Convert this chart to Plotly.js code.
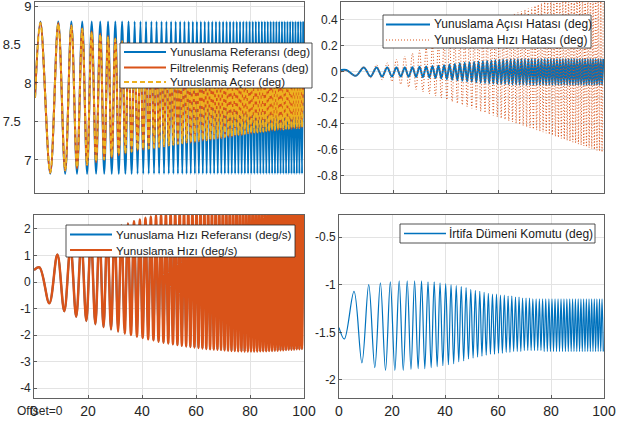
<!DOCTYPE html>
<html>
<head>
<meta charset="utf-8">
<script src="https://cdn.plot.ly/plotly-3.0.1.min.js"></script>
<style>html,body{margin:0;padding:0;background:#fff;}#chart{width:634px;height:425px;}</style>
</head>
<body>
<div id="chart"></div>
<script>
// ---- DATA (turning points of the chirp test) ----
const timeS = [0, 2.01, 5.67, 8.65, 11.22, 13.52, 15.62, 17.56, 19.37, 21.08, 22.71, 24.25, 25.74, 27.16, 28.53, 29.86, 31.14, 32.38, 33.59, 34.77, 35.92, 37.04, 38.13, 39.20, 40.25, 41.28, 42.28, 43.27, 44.24, 45.19, 46.13, 47.05, 47.96, 48.85, 49.73, 50.60, 51.45, 52.30, 53.13, 53.95, 54.76, 55.56, 56.35, 57.14, 57.91, 58.67, 59.43, 60.18, 60.92, 61.65, 62.38, 63.10, 63.81, 64.51, 65.21, 65.90, 66.59, 67.27, 67.94, 68.61, 69.27, 69.93, 70.58, 71.23, 71.87, 72.50, 73.14, 73.76, 74.38, 75.00, 75.61, 76.22, 76.83, 77.43, 78.02, 78.62, 79.21, 79.79, 80.37, 80.95, 81.52, 82.09, 82.66, 83.22, 83.78, 84.34, 84.89, 85.44, 85.99, 86.53, 87.07, 87.61, 88.15, 88.68, 89.21, 89.73, 90.26, 90.78, 91.30, 91.81, 92.32, 92.83, 93.34, 93.85, 94.35, 94.85, 95.35, 95.84, 96.34, 96.83, 97.32, 97.81, 98.29, 98.77, 99.26, 99.73];

const pitchRef = [7.81, 8.8, 6.82, 8.8, 6.82, 8.8, 6.82, 8.8, 6.82, 8.8, 6.82, 8.8, 6.82, 8.8, 6.82, 8.8, 6.82, 8.8, 6.82, 8.8, 6.82, 8.8, 6.82, 8.8, 6.82, 8.8, 6.82, 8.8, 6.82, 8.8, 6.82, 8.8, 6.82, 8.8, 6.82, 8.8, 6.82, 8.8, 6.82, 8.8, 6.82, 8.8, 6.82, 8.8, 6.82, 8.8, 6.82, 8.8, 6.82, 8.8, 6.82, 8.8, 6.82, 8.8, 6.82, 8.8, 6.82, 8.8, 6.82, 8.8, 6.82, 8.8, 6.82, 8.8, 6.82, 8.8, 6.82, 8.8, 6.82, 8.8, 6.82, 8.8, 6.82, 8.8, 6.82, 8.8, 6.82, 8.8, 6.82, 8.8, 6.82, 8.8, 6.82, 8.8, 6.82, 8.8, 6.82, 8.8, 6.82, 8.8, 6.82, 8.8, 6.82, 8.8, 6.82, 8.8, 6.82, 8.8, 6.82, 8.8, 6.82, 8.8, 6.82, 8.8, 6.82, 8.8, 6.82, 8.8, 6.82, 8.8, 6.82, 8.8, 6.82, 8.8, 6.82, 8.8];

const filteredRef = [7.81, 8.79, 6.83, 8.78, 6.86, 8.75, 6.89, 8.71, 6.93, 8.67, 6.97, 8.64, 7.00, 8.61, 7.03, 8.58, 7.06, 8.55, 7.08, 8.53, 7.10, 8.51, 7.12, 8.49, 7.13, 8.48, 7.14, 8.47, 7.15, 8.46, 7.16, 8.45, 7.17, 8.44, 7.18, 8.43, 7.19, 8.42, 7.20, 8.41, 7.21, 8.40, 7.22, 8.40, 7.22, 8.39, 7.23, 8.38, 7.24, 8.37, 7.25, 8.37, 7.25, 8.36, 7.26, 8.35, 7.27, 8.34, 7.28, 8.34, 7.28, 8.33, 7.29, 8.32, 7.30, 8.32, 7.30, 8.31, 7.31, 8.30, 7.32, 8.30, 7.32, 8.29, 7.33, 8.28, 7.34, 8.28, 7.34, 8.27, 7.35, 8.27, 7.35, 8.26, 7.36, 8.26, 7.36, 8.25, 7.37, 8.25, 7.37, 8.24, 7.38, 8.24, 7.38, 8.23, 7.39, 8.23, 7.39, 8.23, 7.39, 8.22, 7.40, 8.22, 7.40, 8.22, 7.40, 8.21, 7.41, 8.21, 7.41, 8.21, 7.41, 8.21, 7.42, 8.20];

const pitchAngle = [7.81, 8.78, 6.84, 8.77, 6.87, 8.74, 6.90, 8.70, 6.94, 8.66, 6.98, 8.63, 7.01, 8.60, 7.04, 8.57, 7.07, 8.54, 7.09, 8.52, 7.11, 8.50, 7.13, 8.48, 7.14, 8.47, 7.15, 8.46, 7.16, 8.45, 7.17, 8.44, 7.18, 8.43, 7.19, 8.42, 7.20, 8.41, 7.21, 8.40, 7.22, 8.39, 7.23, 8.39, 7.23, 8.38, 7.24, 8.37, 7.25, 8.36, 7.26, 8.36, 7.26, 8.35, 7.27, 8.34, 7.28, 8.33, 7.29, 8.33, 7.29, 8.32, 7.30, 8.31, 7.31, 8.31, 7.31, 8.30, 7.32, 8.29, 7.33, 8.29, 7.33, 8.28, 7.34, 8.27, 7.35, 8.27, 7.35, 8.26, 7.36, 8.26, 7.36, 8.25, 7.37, 8.25, 7.37, 8.24, 7.38, 8.24, 7.38, 8.23, 7.39, 8.23, 7.39, 8.22, 7.40, 8.22, 7.40, 8.22, 7.40, 8.21, 7.41, 8.21, 7.41, 8.21, 7.41, 8.20, 7.42, 8.20, 7.42, 8.20, 7.42, 8.20, 7.43, 8.19];

const angleErr = [0.015, 0.015, -0.03, 0.035, -0.035, 0.035, -0.035, 0.035, -0.035, 0.035, -0.035, 0.035, -0.037, 0.037, -0.038, 0.04, -0.04, 0.042, -0.043, 0.045, -0.046, 0.048, -0.05, 0.052, -0.055, 0.057, -0.06, 0.062, -0.064, 0.066, -0.068, 0.07, -0.072, 0.074, -0.076, 0.078, -0.08, 0.081, -0.083, 0.084, -0.086, 0.087, -0.088, 0.089, -0.09, 0.091, -0.092, 0.093, -0.094, 0.095, -0.095, 0.096, -0.096, 0.097, -0.097, 0.098, -0.098, 0.099, -0.098, 0.1, -0.099, 0.1, -0.1, 0.1, -0.1, 0.1, -0.1, 0.1, -0.1, 0.1, -0.1, 0.1, -0.1, 0.1, -0.1, 0.1, -0.1, 0.1, -0.1, 0.1, -0.1, 0.1, -0.1, 0.1, -0.1, 0.1, -0.1, 0.1, -0.1, 0.1, -0.1, 0.1, -0.1, 0.1, -0.1, 0.1, -0.1, 0.1, -0.1, 0.1, -0.1, 0.1, -0.1, 0.1, -0.1, 0.1, -0.1, 0.1, -0.1, 0.1, -0.1, 0.1, -0.1, 0.1, -0.1, 0.1];

const rateErr = [0, 0.01, -0.03, 0.04, -0.045, 0.055, -0.06, 0.07, -0.073, 0.096, -0.095, 0.121, -0.116, 0.144, -0.135, 0.165, -0.153, 0.184, -0.169, 0.203, -0.185, 0.221, -0.2, 0.238, -0.214, 0.254, -0.228, 0.269, -0.242, 0.284, -0.254, 0.299, -0.267, 0.313, -0.279, 0.326, -0.291, 0.34, -0.302, 0.353, -0.313, 0.365, -0.324, 0.377, -0.335, 0.389, -0.345, 0.401, -0.355, 0.413, -0.365, 0.424, -0.375, 0.435, -0.384, 0.446, -0.394, 0.457, -0.403, 0.467, -0.412, 0.477, -0.421, 0.487, -0.43, 0.497, -0.438, 0.507, -0.447, 0.517, -0.455, 0.526, -0.463, 0.536, -0.471, 0.545, -0.479, 0.554, -0.487, 0.563, -0.495, 0.572, -0.503, 0.581, -0.511, 0.59, -0.518, 0.598, -0.526, 0.607, -0.533, 0.615, -0.54, 0.624, -0.547, 0.632, -0.555, 0.64, -0.562, 0.648, -0.569, 0.656, -0.576, 0.664, -0.582, 0.672, -0.589, 0.679, -0.596, 0.687, -0.603, 0.695, -0.609, 0.702, -0.616, 0.71];

const pitchRate = [0.45, 0.55, -0.8, 1.04, -1.1, 1.32, -1.31, 1.52, -1.47, 1.68, -1.59, 1.82, -1.7, 1.94, -1.79, 2.04, -1.87, 2.13, -1.94, 2.21, -2.0, 2.29, -2.06, 2.36, -2.11, 2.42, -2.16, 2.47, -2.2, 2.52, -2.25, 2.56, -2.29, 2.6, -2.32, 2.63, -2.35, 2.66, -2.38, 2.69, -2.41, 2.71, -2.43, 2.72, -2.45, 2.73, -2.47, 2.74, -2.49, 2.75, -2.51, 2.76, -2.53, 2.77, -2.54, 2.77, -2.55, 2.78, -2.56, 2.78, -2.57, 2.79, -2.58, 2.79, -2.59, 2.79, -2.6, 2.8, -2.6, 2.8, -2.61, 2.8, -2.61, 2.8, -2.62, 2.8, -2.62, 2.8, -2.62, 2.8, -2.62, 2.8, -2.62, 2.8, -2.61, 2.8, -2.61, 2.79, -2.61, 2.79, -2.6, 2.79, -2.6, 2.79, -2.59, 2.78, -2.59, 2.78, -2.58, 2.78, -2.58, 2.77, -2.57, 2.77, -2.56, 2.77, -2.56, 2.76, -2.55, 2.76, -2.54, 2.76, -2.54, 2.75, -2.53, 2.75];

// the commanded rate lies exactly under the measured rate in the picture
const pitchRateRef = pitchRate;

const elevatorCmd = [-1.45, -1.57, -1.07, -1.82, -1.0, -1.87, -0.98, -1.9, -0.97, -1.9, -0.96, -1.9, -0.96, -1.89, -0.96, -1.88, -0.96, -1.88, -0.97, -1.87, -0.97, -1.86, -0.98, -1.85, -0.99, -1.84, -1.0, -1.83, -1.01, -1.81, -1.02, -1.8, -1.03, -1.78, -1.05, -1.77, -1.06, -1.76, -1.07, -1.75, -1.08, -1.74, -1.09, -1.73, -1.1, -1.73, -1.1, -1.72, -1.11, -1.72, -1.11, -1.71, -1.12, -1.71, -1.12, -1.7, -1.13, -1.7, -1.13, -1.7, -1.14, -1.69, -1.14, -1.69, -1.14, -1.69, -1.15, -1.69, -1.15, -1.69, -1.15, -1.69, -1.15, -1.7, -1.15, -1.7, -1.15, -1.7, -1.15, -1.7, -1.15, -1.7, -1.15, -1.7, -1.15, -1.7, -1.15, -1.7, -1.15, -1.7, -1.15, -1.7, -1.15, -1.7, -1.15, -1.7, -1.15, -1.7, -1.15, -1.7, -1.15, -1.7, -1.15, -1.7, -1.15, -1.7, -1.15, -1.7, -1.15, -1.7, -1.15, -1.7, -1.15, -1.7, -1.15, -1.7];

const xTicks = [0, 20, 40, 60, 80, 100];
const xTickText = ['0', '20', '40', '60', '80', '100'];
const legendTL = ['Yunuslama Referansı (deg)', 'Filtrelenmiş Referans (deg)', 'Yunuslama Açısı (deg)'];
const legendTR = ['Yunuslama Açısı Hatası (deg)', 'Yunuslama Hızı Hatası (deg)'];
const legendBL = ['Yunuslama Hızı Referansı (deg/s)', 'Yunuslama Hızı (deg/s)'];
const legendBR = ['İrtifa Dümeni Komutu (deg)'];
const offsetText = 'Offset=0';

// ---- STYLE ----
const W = 634, H = 425;
const BLUE = '#0072BD', ORANGE = '#D95319', YELLOW = '#EDB120';
const FONT = 'Liberation Sans, Arial, Helvetica, sans-serif';
const px = x => x / W, py = y => 1 - y / H;

function line(x, y, xa, ya, color, width, dash) {
  return {x: x, y: y, xaxis: xa, yaxis: ya, type: 'scatter', mode: 'lines',
    line: {color: color, width: width, dash: dash || 'solid', shape: 'spline'},
    hoverinfo: 'skip', showlegend: false};
}

const traces = [
  line(timeS, pitchRef, 'x', 'y', BLUE, 2),
  line(timeS, filteredRef, 'x', 'y', ORANGE, 2),
  line(timeS, pitchAngle, 'x', 'y', YELLOW, 2, '5px,3px'),
  line(timeS, angleErr, 'x2', 'y2', BLUE, 2),
  line(timeS, rateErr, 'x2', 'y2', ORANGE, 1, '1px,2px'),
  line(timeS, pitchRateRef, 'x3', 'y3', BLUE, 2),
  line(timeS, pitchRate, 'x3', 'y3', ORANGE, 2.5),
  line(timeS, elevatorCmd, 'x4', 'y4', BLUE, 1.2)
];

function axis(extra) {
  return Object.assign({
    showline: true, mirror: true, linecolor: '#3a3a3a', linewidth: 0.8,
    showgrid: true, gridcolor: '#e3e3e3', gridwidth: 1, zeroline: false,
    ticks: 'inside', ticklen: 3, tickcolor: '#3a3a3a', tickwidth: 0.8,
    ticklabeloverflow: 'allow',
    tickfont: {family: FONT, size: 12, color: '#262626'}, fixedrange: true
  }, extra);
}
function xax(domain, anchor, labels) {
  return axis({domain: domain, anchor: anchor, range: [0, 100], tickmode: 'array', tickvals: xTicks,
    ticktext: xTickText, showticklabels: labels, tickfont: {family: FONT, size: 14, color: '#262626'}});
}

const layout = {
  width: W, height: H, margin: {l: 0, r: 0, t: 0, b: 0},
  paper_bgcolor: '#fff', plot_bgcolor: '#fff', showlegend: false,
  font: {family: FONT, color: '#262626'},
  xaxis: xax([px(35), px(304)], 'y', false),
  yaxis: axis({domain: [py(193), py(2)], anchor: 'x', range: [6.571, 9.052], tickmode: 'array',
    tickvals: [7, 7.5, 8, 8.5, 9], ticktext: ['7', '7.5\u2007\u2008', '8', '8.5\u2007\u2008', '9'],
    tickfont: {family: FONT, size: 13, color: '#262626'}}),
  xaxis2: xax([px(341), px(604)], 'y2', false),
  yaxis2: axis({domain: [py(193), py(2)], anchor: 'x2', range: [-0.931, 0.538], tickmode: 'array',
    tickvals: [-0.8, -0.6, -0.4, -0.2, 0, 0.2, 0.4], ticktext: ['-0.8', '-0.6', '-0.4', '-0.2', '0', '0.2', '0.4']}),
  xaxis3: xax([px(34), px(304)], 'y3', true),
  yaxis3: axis({domain: [py(398), py(215)], anchor: 'x3', range: [-4.377, 2.528], tickmode: 'array',
    tickvals: [-4, -3, -2, -1, 0, 1, 2], ticktext: ['-4', '-3', '-2', '-1', '0', '1', '2']}),
  xaxis4: xax([px(339), px(604)], 'y4', true),
  yaxis4: axis({domain: [py(398), py(215)], anchor: 'x4', range: [-2.189, -0.269], tickmode: 'array',
    tickvals: [-2, -1.5, -1, -0.5], ticktext: ['-2', '-1.5', '-1', '-0.5']}),
  shapes: [], annotations: []
};

function addLegend(box, rows, names, styles, fontSize) {
  layout.shapes.push({type: 'rect', xref: 'paper', yref: 'paper', layer: 'above',
    x0: px(box[0]), x1: px(box[1]), y0: py(box[2]), y1: py(box[3]),
    fillcolor: '#fff', line: {color: '#262626', width: 0.8}});
  names.forEach((n, i) => {
    const s = styles[i];
    layout.shapes.push({type: 'line', xref: 'paper', yref: 'paper', layer: 'above',
      x0: px(rows.lx0), x1: px(rows.lx1), y0: py(rows.ys[i]), y1: py(rows.ys[i]),
      line: {color: s.color, width: s.width, dash: s.dash || 'solid'}});
    layout.annotations.push({xref: 'paper', yref: 'paper', x: px(rows.tx), y: py(rows.ys[i]),
      xanchor: 'left', yanchor: 'middle', showarrow: false, text: n,
      font: {family: FONT, size: fontSize, color: '#1a1a1a'}});
  });
}

addLegend([120, 312, 43, 88], {lx0: 124, lx1: 166, tx: 168, ys: [52, 67.5, 82]}, legendTL,
  [{color: BLUE, width: 2}, {color: ORANGE, width: 2}, {color: YELLOW, width: 2, dash: '5px,3px'}], 11.5);
addLegend([383, 591, 15, 48], {lx0: 386, lx1: 430, tx: 432, ys: [24.5, 40]}, legendTR,
  [{color: BLUE, width: 2}, {color: ORANGE, width: 1, dash: '1px,2px'}], 12);
addLegend([66, 295, 225, 257], {lx0: 70, lx1: 112, tx: 114, ys: [234.5, 250]}, legendBL,
  [{color: BLUE, width: 2}, {color: ORANGE, width: 2}], 11.7);
addLegend([400, 595, 224, 243], {lx0: 404, lx1: 446, tx: 447, ys: [233.5]}, legendBR,
  [{color: BLUE, width: 1.6}], 12);

layout.annotations.push({xref: 'paper', yref: 'paper', x: px(15), y: py(411), xanchor: 'left',
  yanchor: 'middle', showarrow: false, text: offsetText, font: {family: FONT, size: 12, color: '#262626'}});

Plotly.newPlot('chart', traces, layout, {staticPlot: true, displayModeBar: false});
</script>
</body>
</html>
